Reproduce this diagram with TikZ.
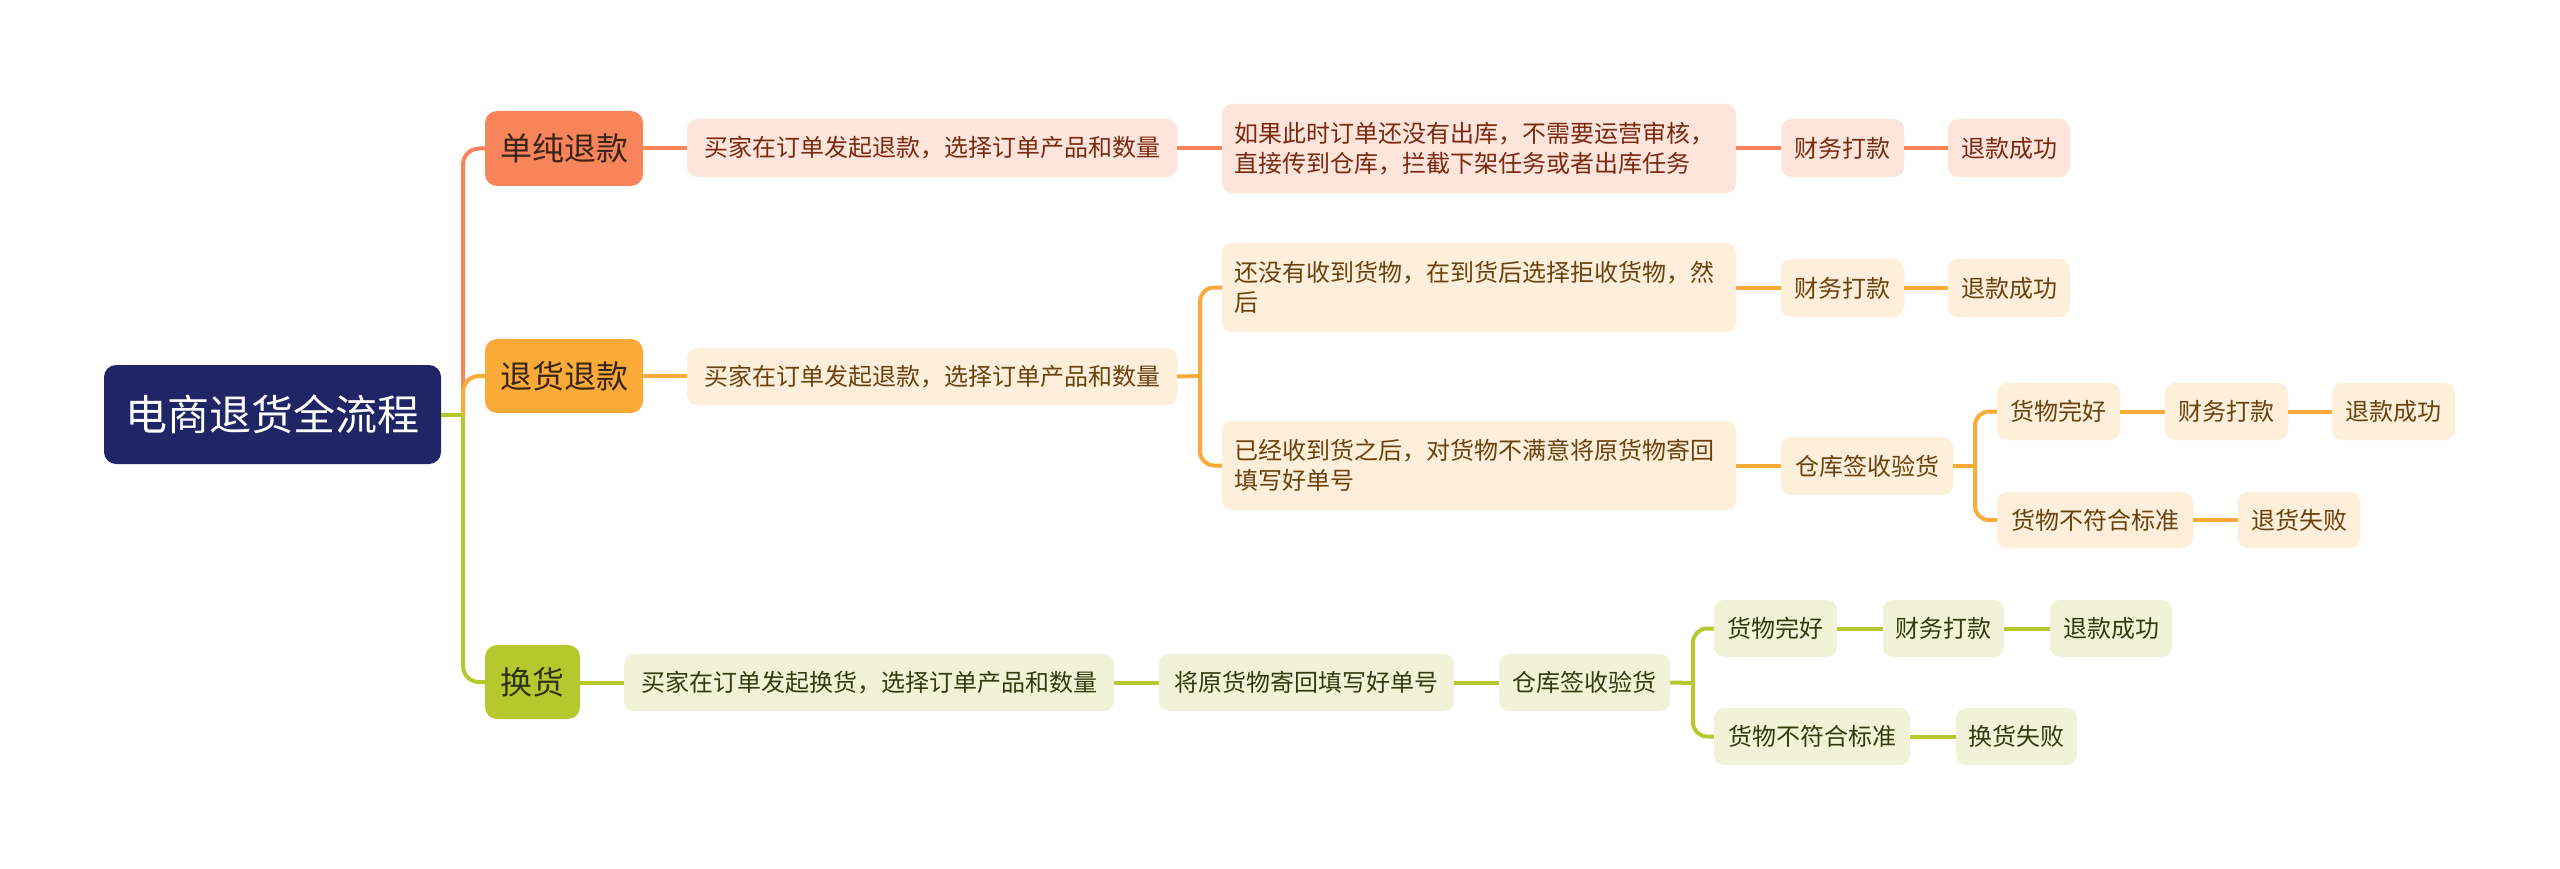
\documentclass[tikz,border=0pt]{standalone}
\usepackage{fontspec}
\setmainfont{Noto Sans CJK SC}
\definecolor{rootc}{HTML}{1F2565}
\definecolor{ca}{HTML}{F7845A}
\definecolor{cb}{HTML}{FAAA38}
\definecolor{cc}{HTML}{B5C92F}
\definecolor{fa}{HTML}{FDE5DC}
\definecolor{fb}{HTML}{FDEFDA}
\definecolor{fc}{HTML}{F0F3D8}
\definecolor{ta}{HTML}{7A2A10}
\definecolor{tb}{HTML}{6B420F}
\definecolor{tc}{HTML}{333A10}
\definecolor{la}{HTML}{3A2418}
\definecolor{lc}{HTML}{2C3510}
\newcommand\mmnode[7]{\node[#1, minimum width={(#4)-(#3)}, minimum height={(#6)-(#5)}] (#2) at ({((#3)+(#4))/2},{((#5)+(#6))/2}) {#7};}
\tikzset{
  base/.style={rounded corners=10pt, inner sep=0pt, align=center, font=\fontsize{24}{30}\selectfont},
  rootbox/.style={base, rounded corners=12pt, fill=rootc, text=white, font=\fontsize{42}{48}\selectfont},
  l1a/.style={base, rounded corners=12pt, fill=ca, text=la, font=\fontsize{32}{38}\selectfont},
  l1b/.style={base, rounded corners=12pt, fill=cb, text=la, font=\fontsize{32}{38}\selectfont},
  l1c/.style={base, rounded corners=12pt, fill=cc, text=lc, font=\fontsize{32}{38}\selectfont},
  bxa/.style={base, fill=fa, text=ta},
  bxb/.style={base, fill=fb, text=tb},
  bxc/.style={base, fill=fc, text=tc},
  multi/.style={text width=490pt, align=left},
  conn/.style={line width=4pt},
  cona/.style={conn, draw=ca},
  conb/.style={conn, draw=cb},
  conc/.style={conn, draw=cc},
}
\begin{document}
\begin{tikzpicture}[x=1pt,y=-1pt]
\useasboundingbox[fill=white] (0,0) rectangle (2560,869);
% root
\mmnode{rootbox}{root}{104}{441}{365}{464}{电商退货全流程}
% level 1
\mmnode{l1a}{A}{485}{643}{111}{186}{单纯退款}
\mmnode{l1b}{B}{485}{643}{339}{413}{退货退款}
\mmnode{l1c}{C}{485}{580}{645}{719}{换货}
% branch A
\mmnode{bxa}{A1}{687}{1177}{119}{177}{买家在订单发起退款，选择订单产品和数量}
\mmnode{bxa, multi}{A2}{1222}{1736}{104}{193}{如果此时订单还没有出库，不需要运营审核，\\直接传到仓库，拦截下架任务或者出库任务}
\mmnode{bxa}{A3}{1781}{1904}{119}{177}{财务打款}
\mmnode{bxa}{A4}{1948}{2070}{119}{177}{退款成功}
% branch B
\mmnode{bxb}{B1}{687}{1177}{348}{405}{买家在订单发起退款，选择订单产品和数量}
\mmnode{bxb, multi}{B2}{1222}{1736}{243}{332}{还没有收到货物，在到货后选择拒收货物，然\\后}
\mmnode{bxb}{B3}{1781}{1904}{259}{317}{财务打款}
\mmnode{bxb}{B4}{1948}{2070}{259}{317}{退款成功}
\mmnode{bxb, multi}{B5}{1222}{1736}{421}{510}{已经收到货之后，对货物不满意将原货物寄回\\填写好单号}
\mmnode{bxb}{B6}{1781}{1953}{437}{495}{仓库签收验货}
\mmnode{bxb}{B7}{1997}{2120}{383}{440}{货物完好}
\mmnode{bxb}{B8}{2165}{2288}{383}{440}{财务打款}
\mmnode{bxb}{B9}{2332}{2455}{383}{440}{退款成功}
\mmnode{bxb}{B10}{1997}{2193}{492}{548}{货物不符合标准}
\mmnode{bxb}{B11}{2238}{2360}{492}{548}{退货失败}
% branch C
\mmnode{bxc}{C1}{624}{1114}{654}{711}{买家在订单发起换货，选择订单产品和数量}
\mmnode{bxc}{C2}{1159}{1454}{654}{711}{将原货物寄回填写好单号}
\mmnode{bxc}{C3}{1499}{1670}{654}{711}{仓库签收验货}
\mmnode{bxc}{C4}{1714}{1837}{600}{657}{货物完好}
\mmnode{bxc}{C5}{1883}{2004}{600}{657}{财务打款}
\mmnode{bxc}{C6}{2050}{2172}{600}{657}{退款成功}
\mmnode{bxc}{C7}{1714}{1910}{708}{765}{货物不符合标准}
\mmnode{bxc}{C8}{1956}{2077}{708}{765}{换货失败}
% junctions
\coordinate (rj) at (463,415);
\coordinate (bj) at (1200,376);
\coordinate (b6j) at (1975,466);
\coordinate (c3j) at (1693,683);
% root connectors
\draw[cona, rounded corners=16pt] (rj) |- (A.west);
\draw[conb, rounded corners=16pt] (rj) |- (B.west);
\draw[conc, rounded corners=16pt] (rj) |- (C.west);
\draw[conc] (root.east |- rj) -- (rj);
% branch A
\draw[cona] (A.east) -- (A.east -| A1.west);
\draw[cona] (A1.east) -- (A1.east -| A2.west);
\draw[cona] (A2.east |- A3.west) -- (A3.west);
\draw[cona] (A3.east) -- (A4.west);
% branch B
\draw[conb] (B.east) -- (B.east -| B1.west);
\draw[conb] (B1.east) -- (bj);
\draw[conb, rounded corners=14pt] (bj) |- (B2.west);
\draw[conb, rounded corners=14pt] (bj) |- (B5.west);
\draw[conb] (B2.east |- B3.west) -- (B3.west);
\draw[conb] (B3.east) -- (B4.west);
\draw[conb] (B5.east |- B6.west) -- (B6.west);
\draw[conb] (B6.east) -- (b6j);
\draw[conb, rounded corners=14pt] (b6j) |- (B7.west);
\draw[conb, rounded corners=14pt] (b6j) |- (B10.west);
\draw[conb] (B7.east) -- (B8.west);
\draw[conb] (B8.east) -- (B9.west);
\draw[conb] (B10.east) -- (B11.west);
% branch C
\draw[conc] (C.east |- C1.west) -- (C1.west);
\draw[conc] (C1.east) -- (C2.west);
\draw[conc] (C2.east) -- (C3.west);
\draw[conc] (C3.east) -- (c3j);
\draw[conc, rounded corners=14pt] (c3j) |- (C4.west);
\draw[conc, rounded corners=14pt] (c3j) |- (C7.west);
\draw[conc] (C4.east) -- (C5.west);
\draw[conc] (C5.east) -- (C6.west);
\draw[conc] (C7.east) -- (C8.west);
\end{tikzpicture}
\end{document}
